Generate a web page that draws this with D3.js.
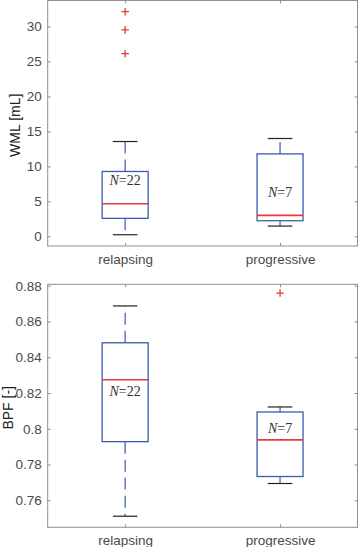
<!DOCTYPE html>
<html>
<head>
<meta charset="utf-8">
<script src="https://cdn.jsdelivr.net/npm/d3@7"></script>
<style>
  html, body { margin: 0; padding: 0; background: #fff; }
  svg { display: block; }
</style>
</head>
<body>
<div id="chart"></div>
<script>
// groups on the x axis
const groups = ["relapsing", "progressive"];
const counts = [22, 7];

// WML [mL] box stats (whisker low, q1, median, q3, whisker high)
const wmlLow = [0.23, 1.47];
const wmlQ1 = [2.57, 2.23];
const wmlMedian = [4.65, 3.0];
const wmlQ3 = [9.27, 11.78];
const wmlHigh = [13.55, 13.98];
const wmlOutliers = [[32.1, 29.5, 26.1], []];
const wmlLabelAt = [7.3, 5.6];
const wmlTicks = [0, 5, 10, 15, 20, 25, 30];

// BPF [-] box stats
const bpfLow = [0.7511, 0.7694];
const bpfQ1 = [0.7928, 0.7733];
const bpfMedian = [0.8274, 0.7938];
const bpfQ3 = [0.8481, 0.8094];
const bpfHigh = [0.8687, 0.8122];
const bpfOutliers = [[], [0.8759]];
const bpfLabelAt = [0.8183, 0.7976];
const bpfTicks = [0.76, 0.78, 0.80, 0.82, 0.84, 0.86, 0.88];

const W = 361, H = 547;
const svg = d3.select("#chart").append("svg")
    .attr("width", W)
    .attr("height", H);

const axisColor = "#8e8e8e";
const textColor = "#4a4a4a";
const blue = "#3d5cb0";
const red = "#e8383a";

function panel(opts) {
    const left = 47.7, right = 357.5;
    const x = d3.scaleLinear().domain([0.5, 2.5]).range([left, right]);
    const y = d3.scaleLinear().domain(opts.domain).range([opts.bottom, opts.top]);

    const g = svg.append("g");

    // box outline of the axes
    g.append("rect")
        .attr("x", left).attr("y", opts.top)
        .attr("width", right - left).attr("height", opts.bottom - opts.top)
        .attr("fill", "none").attr("stroke", axisColor).attr("stroke-width", 1);

    // y ticks, inside on both sides
    const yAxis = g.append("g")
        .attr("transform", `translate(${left},0)`)
        .call(d3.axisLeft(y).tickValues(opts.ticks).tickSize(-3).tickPadding(6)
            .tickFormat(d => String(+d.toFixed(2))));
    yAxis.select(".domain").remove();
    yAxis.selectAll("line").attr("stroke", axisColor);
    yAxis.selectAll("text").attr("fill", textColor)
        .style("font-family", "'Liberation Sans', Arial, sans-serif").style("font-size", "13.5px");

    const yRight = g.append("g")
        .attr("transform", `translate(${right},0)`)
        .call(d3.axisRight(y).tickValues(opts.ticks).tickSize(-3).tickFormat(""));
    yRight.select(".domain").remove();
    yRight.selectAll("line").attr("stroke", axisColor);

    // x ticks, bottom and top
    const xAxis = g.append("g")
        .attr("transform", `translate(0,${opts.bottom})`)
        .call(d3.axisBottom(x).tickValues([1, 2]).tickSize(-3).tickPadding(8)
            .tickFormat((d, i) => groups[i]));
    xAxis.select(".domain").remove();
    xAxis.selectAll("line").attr("stroke", axisColor);
    xAxis.selectAll("text").attr("fill", textColor)
        .style("font-family", "'Liberation Sans', Arial, sans-serif").style("font-size", "13.5px");

    const xTop = g.append("g")
        .attr("transform", `translate(0,${opts.top})`)
        .call(d3.axisTop(x).tickValues([1, 2]).tickSize(-3).tickFormat(""));
    xTop.select(".domain").remove();
    xTop.selectAll("line").attr("stroke", axisColor);

    // y label
    g.append("text")
        .attr("transform", `translate(${opts.labelX},${(opts.top + opts.bottom) / 2 + 2}) rotate(-90)`)
        .attr("text-anchor", "middle")
        .attr("fill", "#222")
        .style("font-family", "'Liberation Sans', Arial, sans-serif")
        .style("font-size", "14px")
        .text(opts.label);

    const boxHalf = 23, capHalf = 12.3;

    groups.forEach((name, i) => {
        const cx = x(i + 1);
        // whiskers (dashed, drawn outward from the box)
        g.append("line")
            .attr("x1", cx).attr("x2", cx)
            .attr("y1", y(opts.q3[i])).attr("y2", y(opts.high[i]))
            .attr("stroke", blue).attr("stroke-width", 1.2).attr("stroke-dasharray", "12,6");
        g.append("line")
            .attr("x1", cx).attr("x2", cx)
            .attr("y1", y(opts.q1[i])).attr("y2", y(opts.low[i]))
            .attr("stroke", blue).attr("stroke-width", 1.2).attr("stroke-dasharray", "12,6");
        // caps
        [opts.high[i], opts.low[i]].forEach(v => {
            g.append("line")
                .attr("x1", cx - capHalf).attr("x2", cx + capHalf)
                .attr("y1", y(v)).attr("y2", y(v))
                .attr("stroke", "#222").attr("stroke-width", 1.2);
        });
        // box
        g.append("rect")
            .attr("x", cx - boxHalf).attr("width", boxHalf * 2)
            .attr("y", y(opts.q3[i])).attr("height", y(opts.q1[i]) - y(opts.q3[i]))
            .attr("fill", "none").attr("stroke", blue).attr("stroke-width", 1.3);
        // median
        g.append("line")
            .attr("x1", cx - boxHalf).attr("x2", cx + boxHalf)
            .attr("y1", y(opts.median[i])).attr("y2", y(opts.median[i]))
            .attr("stroke", red).attr("stroke-width", 1.6);
        // outliers
        opts.outliers[i].forEach(v => {
            g.append("path")
                .attr("d", `M${cx - 3.8},${y(v)}H${cx + 3.8}M${cx},${y(v) - 3.8}V${y(v) + 3.8}`)
                .attr("stroke", red).attr("stroke-width", 1.3).attr("fill", "none");
        });
        // N label
        const t = g.append("text")
            .attr("x", cx).attr("y", y(opts.labelAt[i]))
            .attr("text-anchor", "middle")
            .attr("fill", "#333")
            .style("font-family", "'Liberation Serif', 'Times New Roman', serif")
            .style("font-size", "14px");
        t.append("tspan").style("font-style", "italic").text("N");
        t.append("tspan").text("=" + counts[i]);
    });
}

panel({
    top: 0.5, bottom: 246, domain: [-1.38, 33.7],
    ticks: wmlTicks, label: "WML [mL]", labelX: 19.5,
    low: wmlLow, q1: wmlQ1, median: wmlMedian, q3: wmlQ3, high: wmlHigh,
    outliers: wmlOutliers, labelAt: wmlLabelAt
});

panel({
    top: 284.3, bottom: 527.3, domain: [0.7449, 0.8808],
    ticks: bpfTicks, label: "BPF [-]", labelX: 12.5,
    low: bpfLow, q1: bpfQ1, median: bpfMedian, q3: bpfQ3, high: bpfHigh,
    outliers: bpfOutliers, labelAt: bpfLabelAt
});
</script>
</body>
</html>
